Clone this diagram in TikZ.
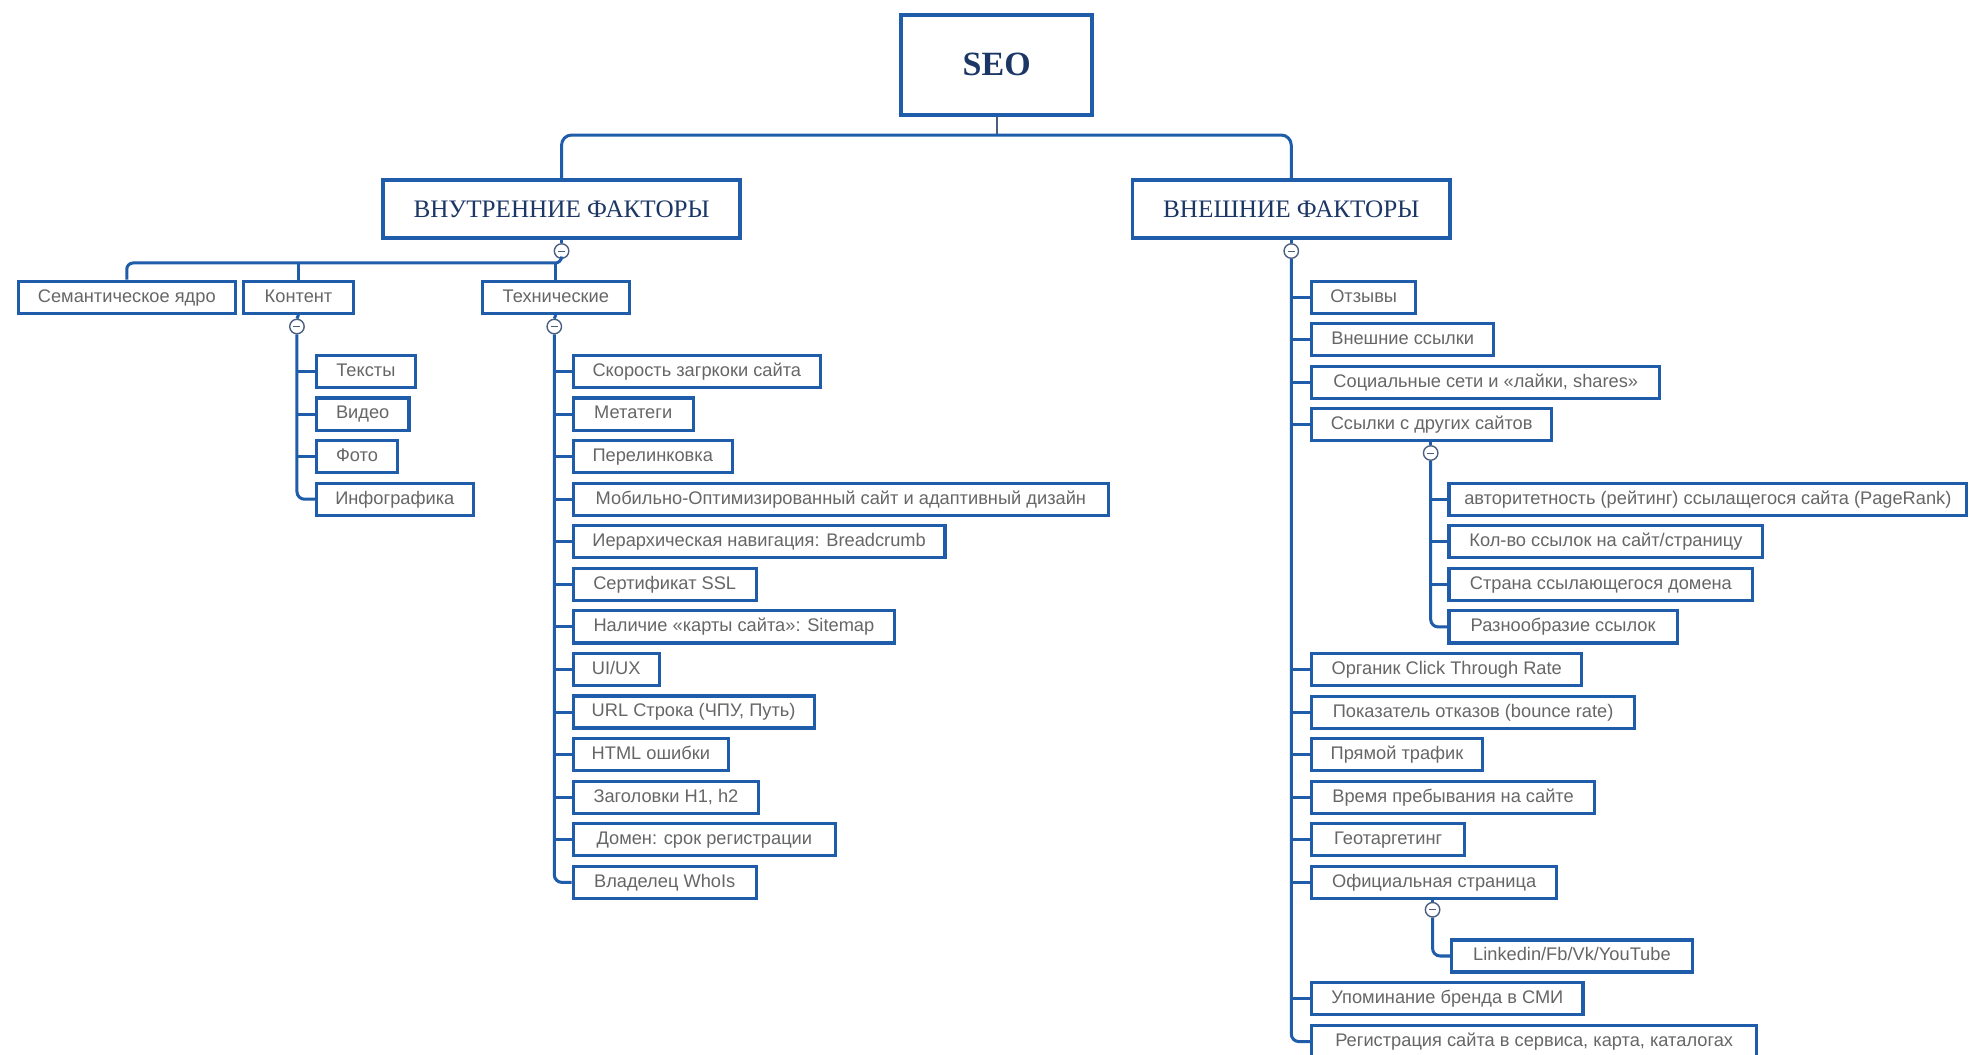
\documentclass[tikz,border=0pt]{standalone}
\usepackage{fontspec}
\setmainfont{Liberation Serif}
\newfontfamily\itemfont{Liberation Sans}
\definecolor{bblue}{HTML}{1F5CAA}
\definecolor{navy}{HTML}{1C3766}
\definecolor{tgray}{HTML}{666666}
\definecolor{cgray}{HTML}{4A5F80}
\newcommand\itm[5]{\node[item,minimum width={#3-#2-2.5}] (#1) at ({#2+1.25},{#4+1.25}) {#5};}
\begin{document}
\begin{tikzpicture}[x=1pt,y=-1pt,
  item/.style={draw=bblue, line width=2.5pt, fill=white, anchor=north west,
    minimum height=25.5pt, inner sep=0pt, text=tgray,
    text height=10.5pt, text depth=2.8pt,
    font=\itemfont\fontsize{14.5}{16}\selectfont},
  hdr/.style={draw=bblue, line width=3pt, fill=white, inner sep=0pt, text=navy,
    font=\fontsize{20}{24}\selectfont},
  seobox/.style={draw=bblue, line width=3.2pt, fill=white, inner sep=0pt, text=navy,
    font=\bfseries\fontsize{27}{30}\selectfont},
  conn/.style={draw=bblue, line width=2.4pt},
  thinconn/.style={draw=cgray, line width=1.3pt},
  toggle/.style={circle, draw=cgray, fill=white, line width=1.1pt, inner sep=0pt,
    minimum size=11.5pt,
    path picture={\draw[cgray, line width=0.7pt]
      ([xshift=-2.8pt]path picture bounding box.center) --
      ([xshift=2.8pt]path picture bounding box.center);}}
]
\useasboundingbox[fill=white] (0,0) rectangle (1568,838);

% ---------- top ----------
\node[seobox, minimum width=151.6, minimum height=79.5] (seo) at (792.1,51.35) {SEO};
\node[hdr, minimum width=284, minimum height=46] (int) at (446.3,166.3) {ВНУТРЕННИЕ ФАКТОРЫ};
\node[hdr, minimum width=252.3, minimum height=46] (ext) at (1026.2,166.3) {ВНЕШНИЕ ФАКТОРЫ};
\coordinate (hb) at (792.1,107.3);
\draw[thinconn] (seo.south) -- (hb);
\draw[conn, rounded corners=8] (int.north) |- (hb) -| (ext.north);

\node[toggle] (cint) at (446.3,199.5) {};
\node[toggle] (cext) at (1026.2,199.5) {};
\draw[conn] (int.south) -- (cint.north);
\draw[conn] (ext.south) -- (cext.north);

% ---------- inner factors ----------
\itm{sem}{12}{187}{221}{Семантическое ядро}
\itm{kont}{191}{281}{221}{Контент}
\itm{tech}{381}{500}{221}{Технические}
\coordinate (hl) at (0,209);
\draw[conn, rounded corners=5] (cint.south) |- (sem.north |- hl) -- (sem.north);
\draw[conn] (kont.north |- hl) -- (kont.north);
\draw[conn] (tech.north |- hl) -- (tech.north);

\node[toggle] (ckont) at (236,259.5) {};
\node[toggle] (ctech) at (440.5,259.5) {};
\draw[conn] (kont.south) -- (ckont.north);
\draw[conn] (tech.south) -- (ctech.north);

% content children
\itm{tx}{249}{330}{280}{Тексты}
\itm{vid}{249}{325}{313.8}{Видео}
\itm{foto}{249}{316}{347.7}{Фото}
\itm{info}{249}{376}{381.5}{Инфографика}
\draw[conn, rounded corners=6] (ckont.south) |- (info.west);
\foreach \n in {tx,vid,foto}{\draw[conn] (ckont.south |- \n.west) -- (\n.west);}

% technical children
\itm{t1}{453}{652}{280}{Скорость загркоки сайта}
\itm{t2}{453}{551}{313.8}{Метатеги}
\itm{t3}{453}{582}{347.7}{Перелинковка}
\itm{t4}{453}{881}{381.5}{Мобильно-Оптимизированный сайт и адаптивный дизайн}
\itm{t5}{453}{751}{415.3}{Иерархическая навигация: Breadcrumb}
\itm{t6}{453}{601}{449.2}{Сертификат SSL}
\itm{t7}{453}{711}{483}{Наличие «карты сайта»: Sitemap}
\itm{t8}{453}{524}{516.8}{UI/UX}
\itm{t9}{453}{647}{550.6}{URL Строка (ЧПУ, Путь)}
\itm{t10}{453}{579}{584.5}{HTML ошибки}
\itm{t11}{453}{603}{618.3}{Заголовки H1, h2}
\itm{t12}{453}{664}{652.1}{Домен: срок регистрации}
\itm{t13}{453}{601}{686}{Владелец WhoIs}
\draw[conn, rounded corners=6] (ctech.south) |- (t13.west);
\foreach \n in {t1,t2,t3,t4,t5,t6,t7,t8,t9,t10,t11,t12}{\draw[conn] (ctech.south |- \n.west) -- (\n.west);}

% ---------- external factors ----------
\itm{e1}{1040}{1125}{221}{Отзывы}
\itm{e2}{1040}{1187}{254.8}{Внешние ссылки}
\itm{e3}{1040}{1319}{288.6}{Социальные сети и «лайки, shares»}
\itm{e4}{1040}{1233}{322.4}{Ссылки с других сайтов}
\itm{s1}{1149}{1563}{381.5}{авторитетность (рейтинг) ссылащегося сайта (PageRank)}
\itm{s2}{1149}{1401}{415.3}{Кол-во ссылок на сайт/страницу}
\itm{s3}{1149}{1393}{449.2}{Страна ссылающегося домена}
\itm{s4}{1149}{1333}{483}{Разнообразие ссылок}
\itm{e5}{1040}{1257}{517}{Органик Click Through Rate}
\itm{e6}{1040}{1299}{550.8}{Показатель отказов (bounce rate)}
\itm{e7}{1040}{1178}{584.6}{Прямой трафик}
\itm{e8}{1040}{1267}{618.4}{Время пребывания на сайте}
\itm{e9}{1040}{1164}{652.2}{Геотаргетинг}
\itm{e10}{1040}{1237}{686}{Официальная страница}
\itm{l1}{1151}{1345}{744.5}{Linkedin/Fb/Vk/YouTube}
\itm{e11}{1040}{1258}{778.5}{Упоминание бренда в СМИ}
\itm{e12}{1040}{1396}{812.5}{Регистрация сайта в сервиса, карта, каталогах}

\draw[conn, rounded corners=6] (cext.south) |- (e12.west);
\foreach \n in {e1,e2,e3,e4,e5,e6,e7,e8,e9,e10,e11}{\draw[conn] (cext.south |- \n.west) -- (\n.west);}

\node[toggle] (clinks) at (1137,360) {};
\draw[conn] (e4.south -| clinks) -- (clinks.north);
\draw[conn, rounded corners=6] (clinks.south) |- (s4.west);
\foreach \n in {s1,s2,s3}{\draw[conn] (clinks.south |- \n.west) -- (\n.west);}

\node[toggle] (coff) at (1138.5,723) {};
\draw[conn] (e10.south -| coff) -- (coff.north);
\draw[conn, rounded corners=6] (coff.south) |- (l1.west);
\end{tikzpicture}
\end{document}
